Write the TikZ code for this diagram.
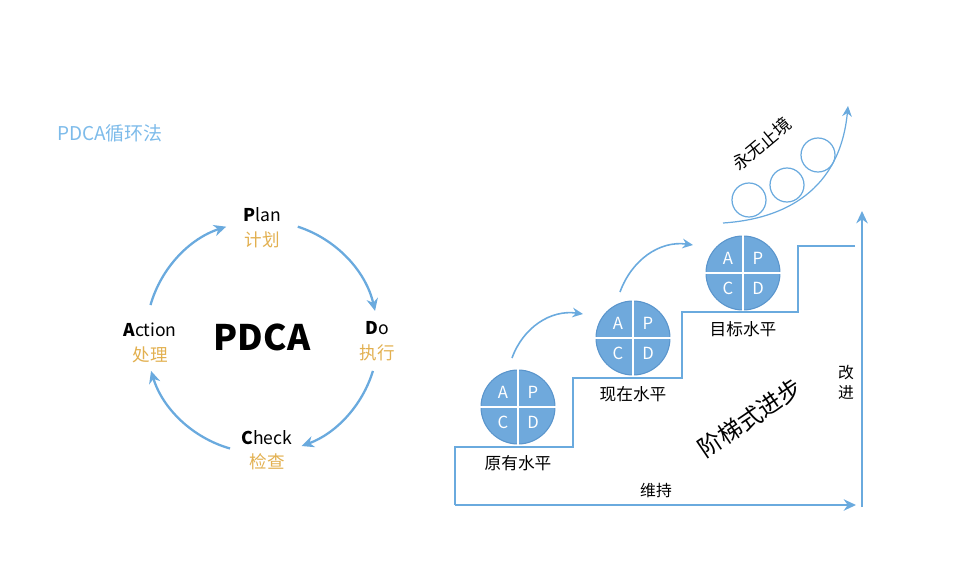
\documentclass[tikz,border=0pt]{standalone}
\usepackage{fontspec}
\setmainfont{Noto Sans CJK SC}
\usetikzlibrary{arrows.meta,positioning}
\definecolor{lineblue}{RGB}{106,170,222}
\definecolor{fillblue}{RGB}{111,169,220}
\definecolor{edgeblue}{RGB}{90,149,204}
\definecolor{titleblue}{RGB}{125,187,234}
\definecolor{gold}{RGB}{226,176,80}

\begin{document}
\begin{tikzpicture}[x=0.02cm,y=0.02cm,>={Stealth[length=7pt,width=6.5pt]},
  cyc/.style={draw=lineblue,line width=1.3pt,->},
  phase/.style={align=center,font=\fontsize{10}{14}\selectfont},
  pdc/.style={circle,draw=edgeblue,fill=fillblue,line width=0.6pt,minimum size=1.48cm,inner sep=0pt},
  letter/.style={text=white,font=\fontsize{9.5}{11}\selectfont},
  lvl/.style={font=\fontsize{9.5}{11}\selectfont},
  stair/.style={draw=lineblue,line width=1.3pt},
  hop/.style={draw=lineblue,line width=0.9pt,->,>={Stealth[length=6pt,width=5.5pt]}}]
  \useasboundingbox (0,0) rectangle (966,-568);
  % left: the cycle
  \node[anchor=west,text=titleblue,font=\fontsize{10.8}{13}\selectfont] (title) at (51,-133) {PDCA循环法};
  \node[font=\bfseries\fontsize{20}{24}\selectfont] (pdca) at (262,-337) {PDCA};
  \node[phase] (plan) at (262,-228) {\textbf{P}lan\\\textcolor{gold}{计划}};
  \node[phase] (do) at (377,-341) {\textbf{D}o\\\textcolor{gold}{执行}};
  \node[phase] (check) at (267,-450) {\textbf{C}heck\\\textcolor{gold}{检查}};
  \node[phase] (act) at (150,-343) {\textbf{A}ction\\\textcolor{gold}{处理}};
  \draw[cyc] (pdca.center) ++(72:116) arc[start angle=72,end angle=13,radius=116];
  \draw[cyc] (pdca.center) ++(-17:116) arc[start angle=-17,end angle=-70,radius=116];
  \draw[cyc] (pdca.center) ++(-106:116) arc[start angle=-106,end angle=-163,radius=116];
  \draw[cyc] (pdca.center) ++(164:116) arc[start angle=164,end angle=108,radius=116];
  % right: the stairs
  \draw[stair] (855,-246) -- (798,-246) -- (798,-312) -- (682,-312) -- (682,-378)
    -- (573,-378) -- (573,-447) -- (455,-447) -- (455,-505);
  \coordinate (o) at (455,-505);
  \coordinate (keep) at (856,-505);
  \coordinate (up0) at (862,-507);
  \coordinate (up1) at (862,-211);
  \draw[stair,->] (o) -- (keep);
  \draw[stair,->] (up0) -- (up1);
  \node[font=\fontsize{9}{11}\selectfont] (hold) at (656,-490) {维持};
  \node[align=center,font=\fontsize{9}{11.5}\selectfont] (better) at (846,-382) {改\\进};
  \foreach \cx/\cy/\nm/\lab in {518/407/old/原有水平,633/338/now/现在水平,743/273/goal/目标水平}{
    \node[pdc] (\nm) at (\cx,-\cy) {};
    \draw[white,line width=0.9pt] (\nm.north) -- (\nm.south);
    \draw[white,line width=0.9pt] (\nm.west) -- (\nm.east);
    \node[letter] at (\cx-15,15-\cy) {A};
    \node[letter] at (\cx+15,15-\cy) {P};
    \node[letter] at (\cx-15,-15-\cy) {C};
    \node[letter] at (\cx+15,-15-\cy) {D};
    \node[lvl] (\nm-l) at (\cx,-\cy-56) {\lab};
  }
  \coordinate (h1) at (512,-358);
  \coordinate (h2) at (583,-314);
  \coordinate (h3) at (620,-292);
  \coordinate (h4) at (693,-245);
  \draw[hop] (h1) to[out=70,in=172] (h2);
  \draw[hop] (h3) to[out=70,in=172] (h4);
  \node[font=\fontsize{13.5}{15}\selectfont,rotate=34] (stairs) at (750,-418) {阶梯式进步};
  % top: endless improvement
  \coordinate (s0) at (723,-223);
  \coordinate (s1) at (848,-106);
  \draw[draw=lineblue,line width=0.7pt,->,>={Stealth[length=6pt,width=5.5pt]}]
    (s0) .. controls (785,-219) and (840,-190) .. (s1);
  \foreach \bx/\by in {749/200,787/185,818/155}
    \draw[lineblue,line width=0.7pt] (\bx,-\by) circle[radius=17];
  \node[font=\fontsize{10}{12}\selectfont,rotate=40] (endless) at (762,-144) {永无止境};
\end{tikzpicture}
\end{document}
